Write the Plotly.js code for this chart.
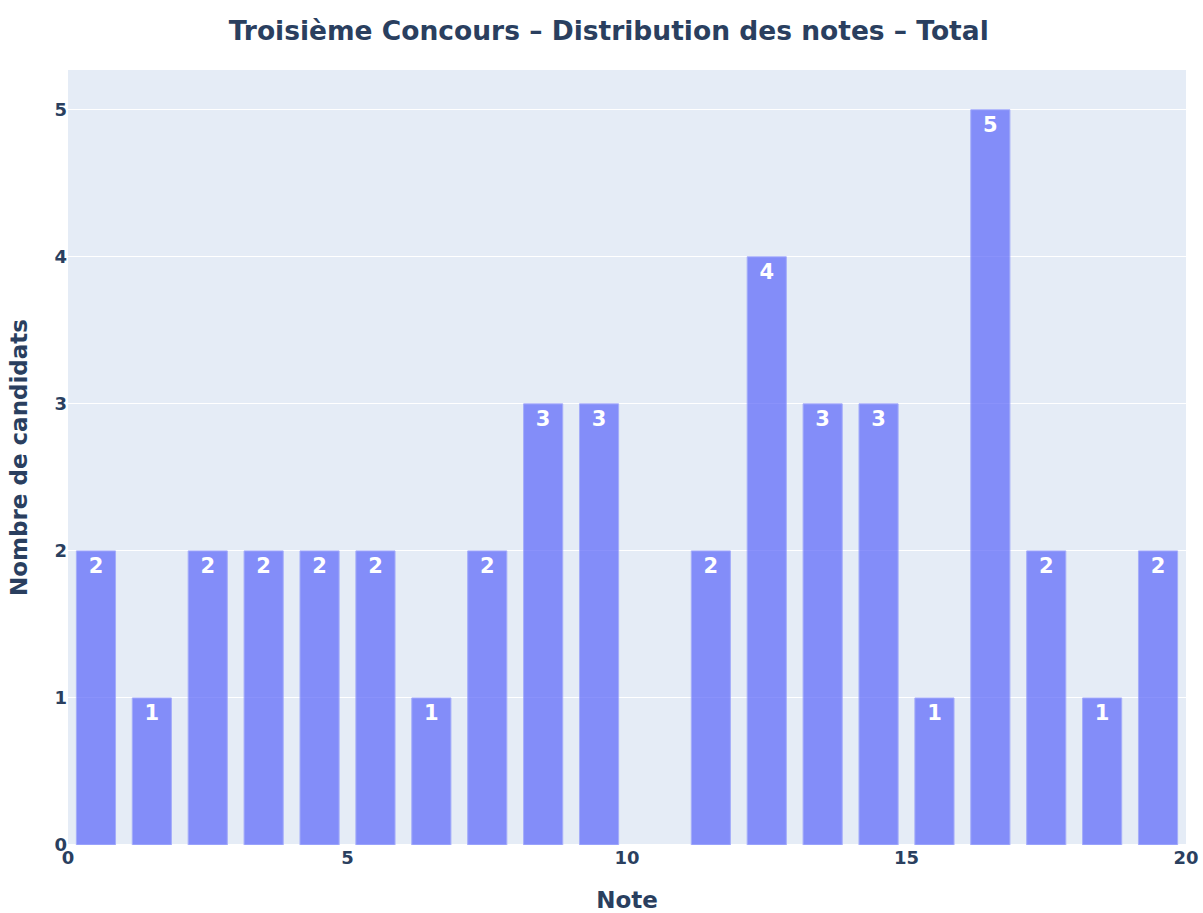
<!DOCTYPE html>
<html>
<head>
<meta charset="utf-8">
<script src="https://cdn.plot.ly/plotly-3.0.1.min.js"></script>
<style>html,body{margin:0;padding:0;background:#fff}#chart{width:1203px;height:913px}</style>
</head>
<body>
<div id="chart"></div>
<script>
// Bin lower edges (note) and counts of candidates
const binStart = [0, 1, 2, 3, 4, 5, 6, 7, 8, 9, 11, 12, 13, 14, 15, 16, 17, 18, 19];
const counts   = [2, 1, 2, 2, 2, 2, 1, 2, 3, 3, 2, 4, 3, 3, 1, 5, 2, 1, 2];
const xTicks = [0, 5, 10, 15, 20];
const yTicks = [0, 1, 2, 3, 4, 5];

const FONT = 'DejaVu Sans';

const trace = {
  type: 'histogram',
  x: binStart,
  y: counts,
  histfunc: 'sum',
  xbins: {start: 0, end: 20, size: 1},
  autobinx: false,
  marker: {color: '#636efa', opacity: 0.75, line: {color: '#8f98fb', width: 1}},
  texttemplate: '%{y}',
  textposition: 'inside',
  insidetextanchor: 'end',
  textfont: {family: FONT, size: 21, color: '#ffffff', weight: 'bold'},
  hoverinfo: 'skip'
};

const layout = {
  width: 1203, height: 913,
  font: {family: FONT, color: '#2a3f5f', weight: 'bold'},
  title: {text: 'Troisième Concours – Distribution des notes – Total', x: 0.506, xanchor: 'center', y: 0.966, yref: 'container', yanchor: 'middle',
          font: {family: FONT, size: 26.5, color: '#2a3f5f', weight: 'bold'}},
  paper_bgcolor: '#ffffff',
  plot_bgcolor: '#e5ecf6',
  margin: {l: 68, r: 17, t: 70, b: 68},
  bargap: 0.3,
  showlegend: false,
  xaxis: {
    range: [0, 20], tickvals: xTicks, ticktext: xTicks.map(String),
    showgrid: false, zeroline: false, ticks: '',
    tickfont: {family: FONT, size: 18, color: '#2a3f5f', weight: 'bold'},
    title: {text: 'Note', standoff: 24, font: {family: FONT, size: 23, color: '#2a3f5f', weight: 'bold'}}
  },
  yaxis: {
    range: [0, 5.27], tickvals: yTicks, ticktext: yTicks.map(String),
    gridcolor: '#ffffff', gridwidth: 1, zeroline: true, zerolinecolor: '#ffffff', zerolinewidth: 2, ticks: '',
    tickfont: {family: FONT, size: 18, color: '#2a3f5f', weight: 'bold'},
    title: {text: 'Nombre de candidats', standoff: 20, font: {family: FONT, size: 23, color: '#2a3f5f', weight: 'bold'}}
  }
};

Plotly.newPlot('chart', [trace], layout, {displayModeBar: false, staticPlot: true});
</script>
</body>
</html>
